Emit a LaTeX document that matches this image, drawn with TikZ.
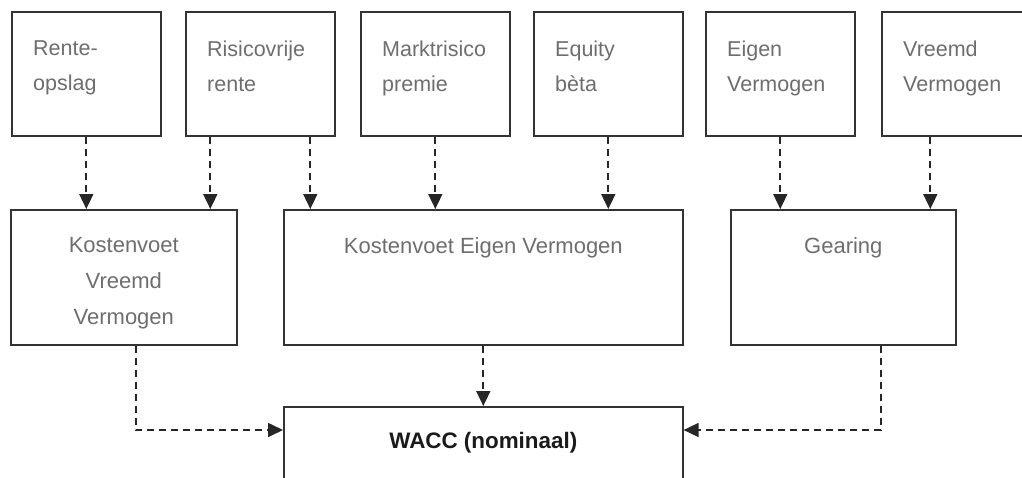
\documentclass[tikz,border=0pt]{standalone}
\usepackage{fontspec}
\setmainfont{Liberation Sans}
\usetikzlibrary{arrows.meta}
\definecolor{boxline}{HTML}{333333}
\definecolor{txtgray}{HTML}{6E6E6E}
\definecolor{txtdark}{HTML}{1A1A1A}
\tikzset{
  box/.style={draw=boxline, line width=1.6pt, fill=white, inner sep=0pt, anchor=north west},
  topbox/.style={box, minimum width=149pt, minimum height=124pt},
  midlbl/.style={text=txtgray, inner sep=0pt, anchor=north, align=center, font=\fontsize{22}{36}\selectfont},
  toplbl/.style={text=txtgray, inner sep=0pt, anchor=north west, align=left, font=\fontsize{21.5}{35}\selectfont},
  arr/.style={draw=black!85, line width=1.7pt, dash pattern=on 7pt off 5pt, -{Triangle[length=15pt,width=14pt]}},
}
\begin{document}
\begin{tikzpicture}[x=1pt,y=-1pt]
\useasboundingbox (0,0) rectangle (1022,477);
\fill[white] (0,0) rectangle (1022,477);
\clip (0,0) rectangle (1022,477);
% top row
\node[topbox] (b1) at (11,11) {};
\node[topbox] (b2) at (185,11) {};
\node[topbox] (b3) at (360,11) {};
\node[topbox] (b4) at (533,11) {};
\node[topbox] (b5) at (705,11) {};
\node[topbox] (b6) at (881,11) {};
\node[toplbl] (t1) at ([xshift=22pt,yshift=-30pt]b1.north west) {Rente-\\opslag};
\node[toplbl] (t2) at ([xshift=22pt,yshift=-30pt]b2.north west) {Risicovrije\\rente};
\node[toplbl] (t3) at ([xshift=22pt,yshift=-30pt]b3.north west) {Marktrisico\\premie};
\node[toplbl] (t4) at ([xshift=22pt,yshift=-30pt]b4.north west) {Equity\\bèta};
\node[toplbl] (t5) at ([xshift=22pt,yshift=-30pt]b5.north west) {Eigen\\Vermogen};
\node[toplbl] (t6) at ([xshift=22pt,yshift=-30pt]b6.north west) {Vreemd\\Vermogen};
% middle row
\node[box, minimum width=226pt, minimum height=135pt] (m1) at (10,209) {};
\node[box, minimum width=399pt, minimum height=135pt] (m2) at (283,209) {};
\node[box, minimum width=225pt, minimum height=135pt] (m3) at (730,209) {};
\node[midlbl] (l1) at ([yshift=-28pt]m1.north) {Kostenvoet\\Vreemd\\Vermogen};
\node[midlbl] (l2) at ([yshift=-28pt]m2.north) {Kostenvoet Eigen Vermogen};
\node[midlbl] (l3) at ([yshift=-28pt]m3.north) {Gearing};
% bottom
\node[box, minimum width=399pt, minimum height=100pt] (w) at (283,406) {};
\node[text=txtdark, inner sep=0pt, anchor=north, font=\fontsize{22.4}{26}\selectfont\bfseries] (wl) at ([yshift=-26pt]w.north) {WACC (nominaal)};
\coordinate (wL) at ([yshift=-24pt]w.north west);
\coordinate (wR) at ([yshift=-24pt]w.north east);
% arrows top -> middle
\draw[arr] (b1.south) -- (b1.south |- m1.north);
\draw[arr] ([xshift=-50pt]b2.south) -- ([xshift=-50pt]b2.south |- m1.north);
\draw[arr] ([xshift=50pt]b2.south) -- ([xshift=50pt]b2.south |- m2.north);
\draw[arr] (b3.south) -- (b3.south |- m2.north);
\draw[arr] (b4.south) -- (b4.south |- m2.north);
\draw[arr] (b5.south) -- (b5.south |- m3.north);
\draw[arr] ([xshift=-26pt]b6.south) -- ([xshift=-26pt]b6.south |- m3.north);
% arrows middle -> WACC
\draw[arr] ([xshift=12pt]m1.south) |- (wL);
\draw[arr] (m2.south) -- (w.north);
\draw[arr] ([xshift=37.5pt]m3.south) |- (wR);
\end{tikzpicture}
\end{document}
